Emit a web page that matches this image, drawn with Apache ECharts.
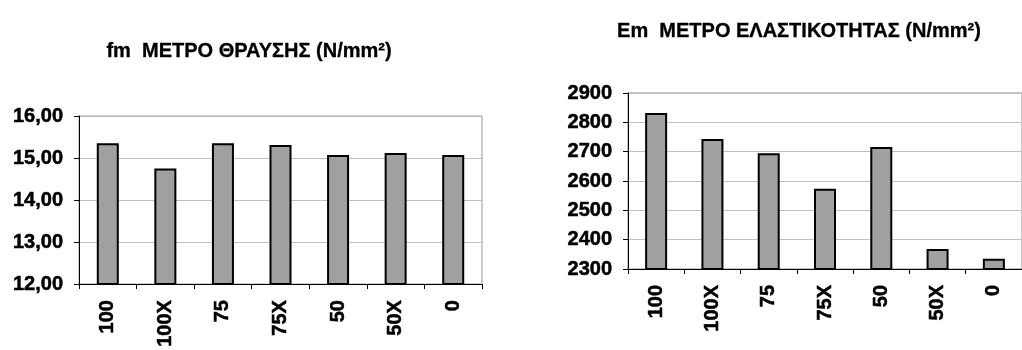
<!DOCTYPE html>
<html>
<head>
<meta charset="utf-8">
<script src="https://cdn.jsdelivr.net/npm/echarts@6/dist/echarts.min.js"></script>
<style>
  html, body { margin: 0; padding: 0; background: #fff; }
  #chart { width: 1022px; height: 350px; }
</style>
</head>
<body>
<div id="chart"></div>
<script>
// Mixture labels shared by both panels
const categories = ['100', '100X', '75', '75X', '50', '50X', '0'];

// fm: modulus of rupture (N/mm²)
const fmTitle = 'fm  ΜΕΤΡΟ ΘΡΑΥΣΗΣ (N/mm²)';
const fmValues = [15.35, 14.75, 15.35, 15.31, 15.07, 15.12, 15.07];
const fmAxis = { min: 12, max: 16, step: 1 };

// Em: modulus of elasticity (N/mm²)
const emTitle = 'Em  ΜΕΤΡΟ ΕΛΑΣΤΙΚΟΤΗΤΑΣ (N/mm²)';
const emValues = [2832, 2743, 2695, 2574, 2716, 2368, 2335];
const emAxis = { min: 2300, max: 2900, step: 100 };

const FONT = '"Liberation Sans", Arial, sans-serif';

// Heavy black text used for titles and tick labels
const heavyText = {
  color: '#000',
  fontFamily: FONT,
  fontWeight: 'bold',
  textBorderColor: '#000',
  textBorderWidth: 0.5
};

function categoryAxis(gridIndex) {
  return {
    type: 'category',
    gridIndex,
    data: categories,
    boundaryGap: true,
    axisLine: { lineStyle: { color: '#000', width: 1 } },
    axisTick: { show: true, length: 5, inside: false, lineStyle: { color: '#000' } },
    axisLabel: Object.assign({ rotate: 90, margin: 16, fontSize: 20 }, heavyText),
    splitLine: { show: false }
  };
}

function valueAxis(gridIndex, range, formatter) {
  return {
    type: 'value',
    gridIndex,
    min: range.min,
    max: range.max,
    interval: range.step,
    axisLine: { show: true, lineStyle: { color: '#000', width: 1 } },
    axisTick: { show: true, length: 5, lineStyle: { color: '#000' } },
    axisLabel: Object.assign({ margin: 16, fontSize: 20, formatter }, heavyText),
    splitLine: { show: true, lineStyle: { color: '#c0c0c0', width: 1 } }
  };
}

function barSeries(index, values) {
  return {
    type: 'bar',
    xAxisIndex: index,
    yAxisIndex: index,
    data: values,
    barWidth: 22,
    itemStyle: { color: '#a0a0a0', borderColor: '#000', borderWidth: 2 },
    silent: true
  };
}

const chart = echarts.init(document.getElementById('chart'), null, { renderer: 'canvas' });

chart.setOption({
  animation: false,
  backgroundColor: '#fff',
  title: [
    {
      text: fmTitle,
      left: 244,
      top: 36,
      textAlign: 'center',
      textStyle: Object.assign({ fontSize: 20 }, heavyText, { textBorderWidth: 0.3 })
    },
    {
      text: emTitle,
      left: 794,
      top: 16,
      textAlign: 'center',
      textStyle: Object.assign({ fontSize: 20 }, heavyText, { textBorderWidth: 0.3 })
    }
  ],
  grid: [
    { left: 79, top: 116, width: 403, height: 172, show: true, borderColor: '#999', borderWidth: 1, backgroundColor: 'transparent' },
    { left: 628, top: 93, width: 401, height: 176, show: true, borderColor: '#888', borderWidth: 1, backgroundColor: 'transparent' }
  ],
  xAxis: [categoryAxis(0), categoryAxis(1)],
  yAxis: [
    valueAxis(0, fmAxis, v => v.toFixed(2).replace('.', ',')),
    valueAxis(1, emAxis, v => String(v))
  ],
  series: [barSeries(0, fmValues), barSeries(1, emValues)]
});
</script>
</body>
</html>
